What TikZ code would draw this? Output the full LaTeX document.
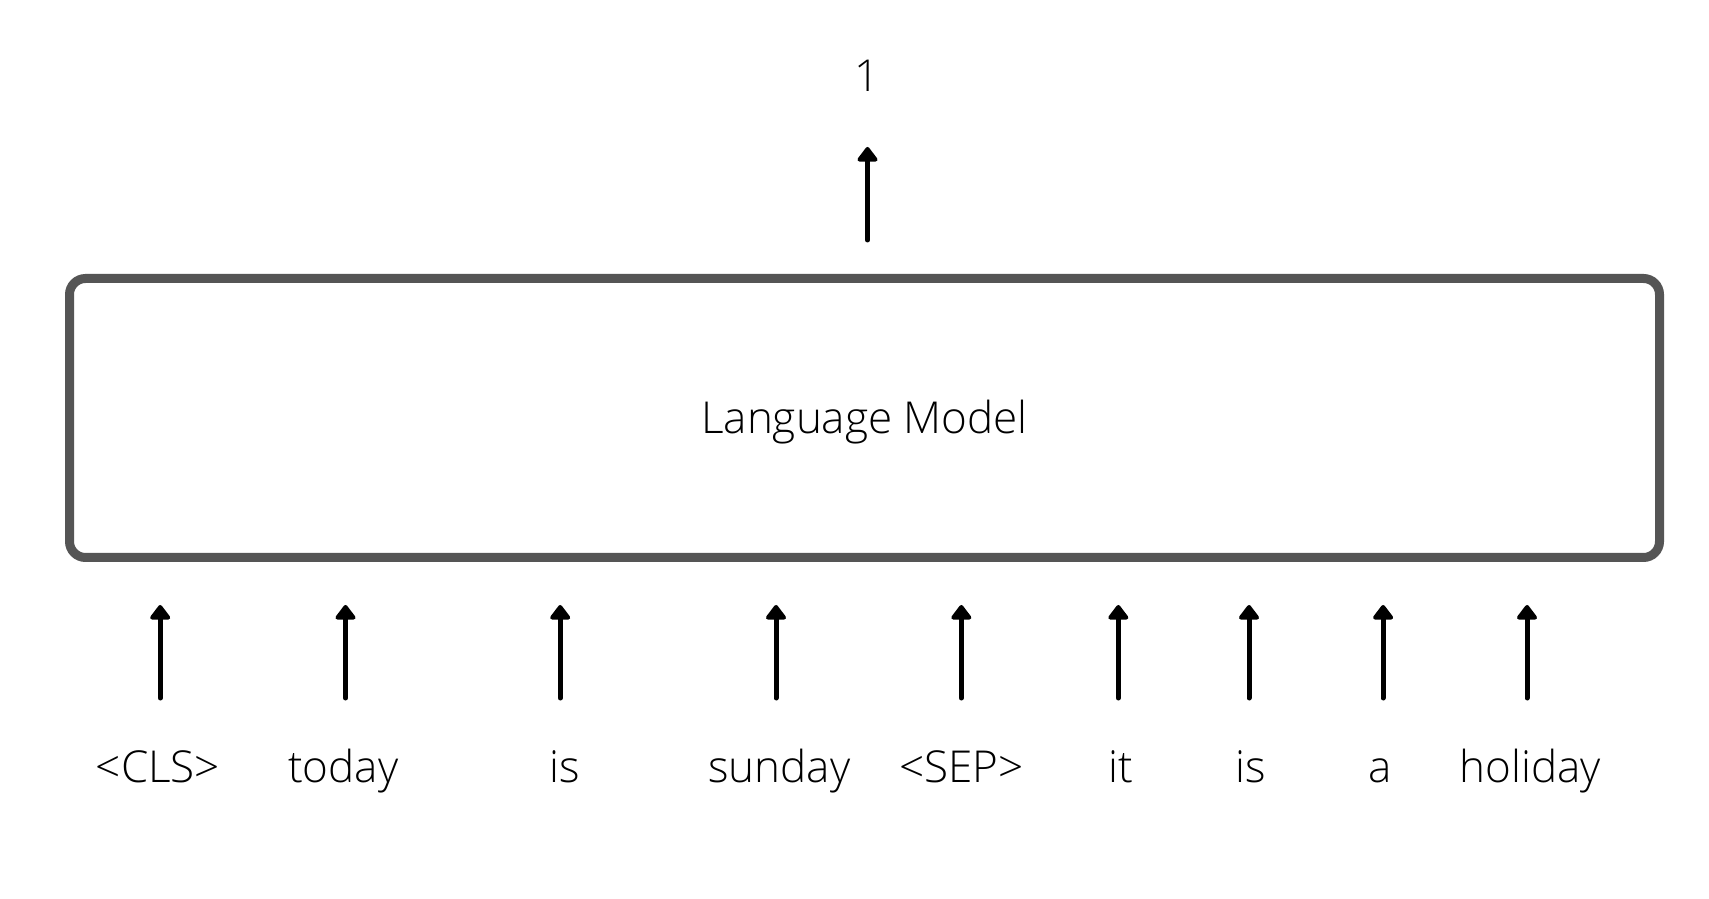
\documentclass[tikz,border=0pt]{standalone}
\usepackage{fontspec}
\IfFontExistsTF{Open Sans Light}{\setmainfont{Open Sans Light}}{\setmainfont{Open Sans}}
\usetikzlibrary{arrows.meta}
\definecolor{boxgray}{HTML}{555555}
\begin{document}
\begin{tikzpicture}[x=1pt,y=1pt,
  lbl/.style={anchor=base,inner sep=0pt,font=\fontsize{44}{52}\selectfont},
  arr/.style={line width=5pt,line cap=round,-{Triangle[width=23pt,length=16pt,round]}},
  lmbox/.style={draw=boxgray,line width=9pt,rounded corners=16pt,inner sep=0pt}]
\useasboundingbox (0,0) rectangle (1709,898);
\fill[white] (0,0) rectangle (1709,898);
% model box
\node[lmbox,minimum width=1590pt,minimum height=279pt] (lm) at (864.5,480) {};
\node[lbl] (lmtext) at (864.5,464) {Language Model};
% output
\node[lbl] (out) at (867,806) {1};
\coordinate (os) at (867.5,658);
\coordinate (oe) at (867.5,751);
\draw[arr] (os) -- (oe);
% inputs
\foreach \i/\ax/\wx/\w in {1/160.2/158/{<CLS>},2/345.5/343.3/today,3/560.2/564.6/is,4/776/779.3/sunday,5/961.3/961.3/{<SEP>},6/1118.3/1120.4/it,7/1249/1251.2/is,8/1383.1/1379.8/a,9/1527/1530.2/holiday}{
  \node[lbl] (w\i) at (\wx,116) {\w};
  \coordinate (s\i) at (\ax,200);
  \coordinate (e\i) at (\ax,293);
  \draw[arr] (s\i) -- (e\i);
}
\end{tikzpicture}
\end{document}
